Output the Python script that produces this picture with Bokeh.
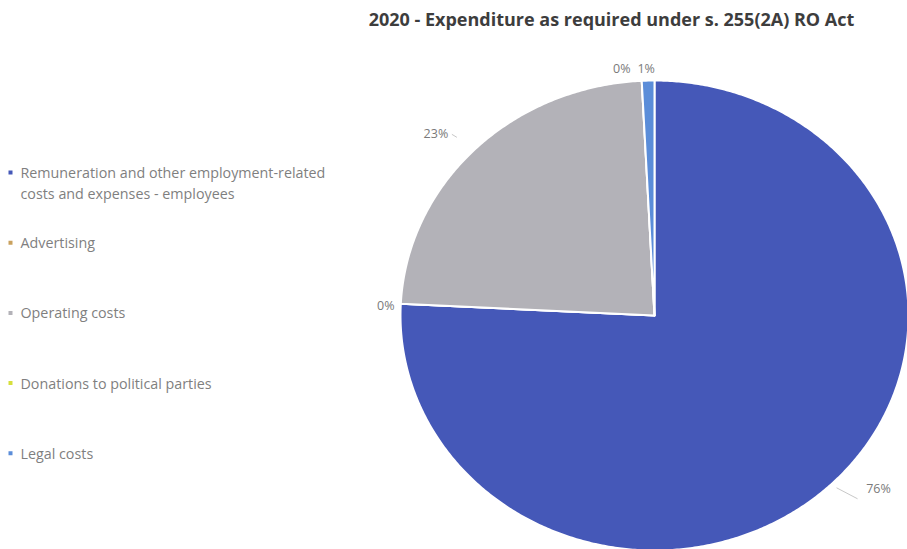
import numpy as np
from bokeh.plotting import figure
from bokeh.models import Range1d
from bokeh.embed import file_html
from bokeh.resources import INLINE
from bokeh.core.properties import value

# ---------------- data ----------------
title_text = "2020 - Expenditure as required under s. 255(2A) RO Act"
categories = [
    "Remuneration and other employment-related costs and expenses - employees",
    "Advertising",
    "Operating costs",
    "Donations to political parties",
    "Legal costs",
]
legend_lines = [
    ["Remuneration and other employment-related", "costs and expenses - employees"],
    ["Advertising"],
    ["Operating costs"],
    ["Donations to political parties"],
    ["Legal costs"],
]
shares = [75.8, 0.0, 23.4, 0.0, 0.8]   # percent
colors = ["#4558B8", "#C9A15E", "#B3B2B8", "#D6DF3C", "#5B8DD9"]

# ---------------- layout / style ----------------
W, H = 907, 549
cx, cy, rx, ry = 654, 315, 254, 235
label_offsets = [(49, 3), (-15, 2), (-39, -16), (-20, -12), (-2, -12)]
leader_offsets = [(7, 2, 28, 13), None, (-23, -15, -18, -12), None, None]
FONT = "Open Sans"

p = figure(width=W, height=H, x_range=Range1d(0, W), y_range=Range1d(H, 0),
           output_backend="svg", toolbar_location=None, min_border=0,
           x_axis_location=None, y_axis_location=None)
p.grid.visible = False
p.outline_line_color = None
p.background_fill_color = "white"
p.border_fill_color = "white"

# ---------------- pie slices ----------------
vals = np.array(shares, dtype=float)
fr = vals / vals.sum()
ends = np.cumsum(fr)
starts = ends - fr
xs, ys = [], []
for s0, s1 in zip(starts, ends):
    n = max(2, int((s1 - s0) * 720) + 2)
    t = np.linspace(s0, s1, n) * 2 * np.pi
    xs.append(list(np.concatenate([[cx], cx + rx * np.sin(t)])))
    ys.append(list(np.concatenate([[cy], cy - ry * np.cos(t)])))
p.patches(xs, ys, fill_color=colors, line_color="white", line_width=2,
          line_join="round")

# ---------------- data labels ----------------
mid = (starts + ends) / 2 * 2 * np.pi
ex = cx + rx * np.sin(mid)
ey = cy - ry * np.cos(mid)
lab_x = [ex[i] + label_offsets[i][0] for i in range(len(shares))]
lab_y = [ey[i] + label_offsets[i][1] for i in range(len(shares))]
lab_t = [f"{round(v):.0f}%" for v in shares]
p.text(lab_x, lab_y, text=lab_t, text_font=value(FONT), text_font_size="12.5px",
       text_color="#7a7a7a", text_align="center", text_baseline="middle")
for i, lo in enumerate(leader_offsets):
    if lo is None:
        continue
    p.segment(x0=[ex[i] + lo[0]], y0=[ey[i] + lo[1]], x1=[ex[i] + lo[2]],
              y1=[ey[i] + lo[3]], line_color="#c8c8c8", line_width=1)

# ---------------- title ----------------
p.text([611], [18], text=[title_text], text_font=value(FONT),
       text_font_size="18px", text_font_style="bold", text_color="#3d3d3d",
       text_align="center", text_baseline="middle")

# ---------------- legend ----------------
leg_y0, leg_step, line_step = 172, 70.2, 21
mx, tx = 10, 20
for i, lines in enumerate(legend_lines):
    y = leg_y0 + leg_step * i
    p.scatter([mx], [y], marker="square", size=4, fill_color=colors[i],
              line_color=None)
    p.text([tx] * len(lines), [y + line_step * k for k in range(len(lines))],
           text=lines, text_font=value(FONT), text_font_size="14.3px",
           text_color="#7f7f7f", text_align="left", text_baseline="middle")

open("out.html", "w").write(file_html(p, INLINE))
